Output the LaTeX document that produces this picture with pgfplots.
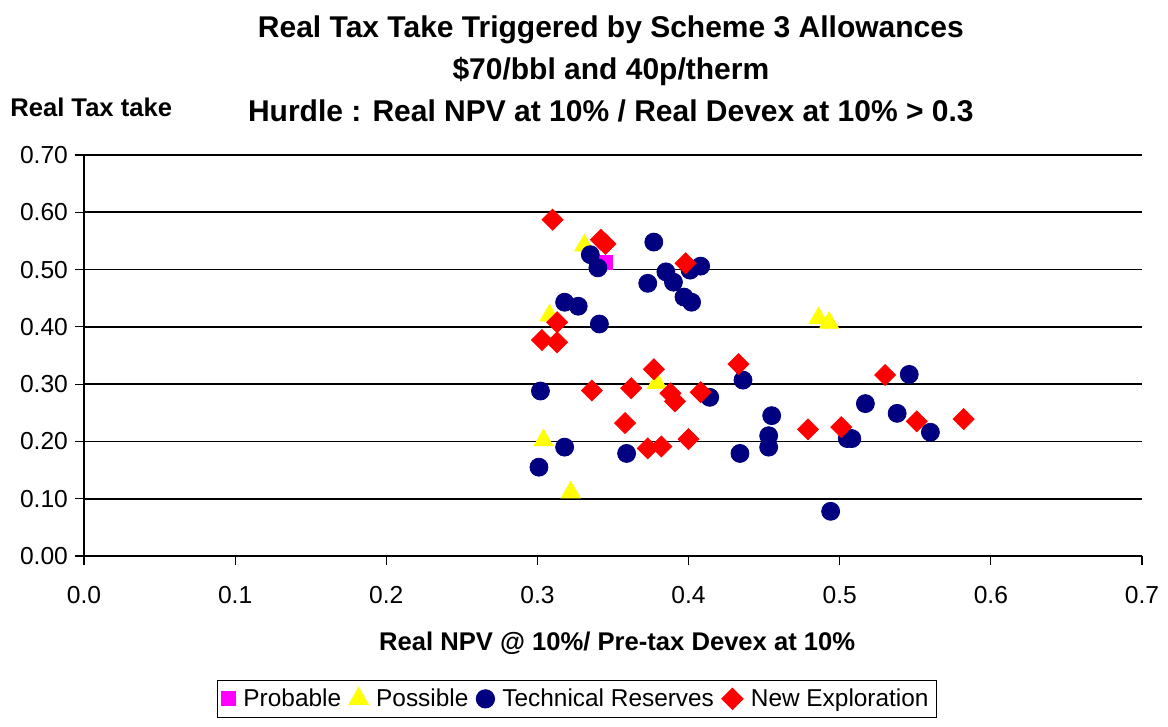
\documentclass[border=0pt]{standalone}
\usepackage{pgfplots}
\pgfplotsset{compat=1.18}
\usepackage{fontspec}
\setmainfont{Liberation Sans}
\definecolor{cprob}{HTML}{FF00FF}
\definecolor{cposs}{HTML}{FFFF00}
\definecolor{ctech}{HTML}{000080}
\definecolor{cnew}{HTML}{FF0000}
\begin{document}
\begin{tikzpicture}
\useasboundingbox (-42pt,-85.5pt) rectangle (542pt,278pt);
\begin{axis}[
  at={(0,0)}, anchor=south west,
  scale only axis,
  width=529pt, height=200.5pt,
  xmin=0, xmax=0.7, ymin=0, ymax=0.7,
  xtick={0,0.1,...,0.7}, ytick={0,0.1,...,0.7},
  /pgf/number format/assume math mode=true,
  xticklabel style={yshift=-7pt, /pgf/number format/.cd, fixed, fixed zerofill, precision=1},
  yticklabel style={/pgf/number format/.cd, fixed, fixed zerofill, precision=2},
  tick label style={font=\fontsize{12.3}{14}\selectfont},
  axis lines=left,
  axis line style={-, black, line width=0.6pt},
  tick style={black, line width=0.6pt},
  tick align=outside,
  major tick length=4.5pt,
  ymajorgrids=true,
  grid style={black, line width=0.9pt},
  clip=false,
  title={Real Tax Take Triggered by Scheme 3 Allowances\\\$70/bbl and 40p/therm\\Hurdle : Real NPV at 10\% / Real Devex at 10\% > 0.3},
  title style={at={(axis description cs:0.498,1)}, anchor=south, inner sep=0pt, yshift=10pt, align=center, font=\fontsize{15}{21.25}\selectfont\bfseries},
  xlabel={Real NPV @ 10\%/ Pre-tax Devex at 10\%},
  xlabel style={at={(axis description cs:0.504,-0.217)}, anchor=center, font=\fontsize{12.8}{14}\selectfont\bfseries},
  ylabel={Real Tax take},
  ylabel style={rotate=-90, at={(axis description cs:-0.070,1.12)}, anchor=west, inner sep=0pt, font=\fontsize{12.8}{14}\selectfont\bfseries},
  legend columns=4,
  legend style={at={(axis description cs:0.466,-0.309)}, anchor=north, draw=black, line width=0.6pt, font=\fontsize{12.2}{14}\selectfont, inner sep=2pt, column sep=2pt},
  legend cell align=left,
]
\addplot[only marks, mark=square*, mark size=3.5pt, mark options={fill=cprob, draw=cprob}] coordinates {
(0.345,0.513)
};
\addlegendentry{Probable}
\addplot[only marks, mark=triangle*, mark size=5.5pt, mark options={fill=cposs, draw=cposs}] coordinates {
(0.331,0.542) (0.308,0.420) (0.304,0.202) (0.322,0.111) (0.379,0.302) (0.486,0.415) (0.493,0.407)
};
\addlegendentry{Possible}
\addplot[only marks, mark=*, mark size=4.5pt, mark options={fill=ctech, draw=ctech}] coordinates {
(0.377,0.548) (0.335,0.526) (0.340,0.503) (0.385,0.496) (0.390,0.478) (0.408,0.506) (0.401,0.499)
(0.373,0.476) (0.397,0.452) (0.402,0.443) (0.318,0.443) (0.327,0.436) (0.341,0.405) (0.302,0.288)
(0.318,0.190) (0.301,0.155) (0.359,0.179) (0.414,0.277) (0.436,0.307) (0.434,0.179) (0.455,0.245)
(0.453,0.210) (0.453,0.190) (0.505,0.205) (0.508,0.205) (0.494,0.078) (0.517,0.266) (0.538,0.249)
(0.546,0.317) (0.560,0.216)
};
\addlegendentry{Technical Reserves}
\addplot[only marks, mark=square*, mark size=3.7pt, mark options={fill=cnew, draw=cnew, rotate=45}] coordinates {
(0.310,0.587) (0.342,0.552) (0.345,0.545) (0.398,0.511) (0.313,0.408) (0.303,0.377) (0.313,0.373)
(0.336,0.289) (0.362,0.293) (0.377,0.326) (0.388,0.284) (0.391,0.270) (0.408,0.286) (0.358,0.232)
(0.373,0.188) (0.382,0.191) (0.400,0.204) (0.433,0.335) (0.479,0.221) (0.501,0.225) (0.530,0.316)
(0.551,0.235) (0.582,0.239)
};
\addlegendentry{New Exploration}
\end{axis}
\end{tikzpicture}
\end{document}
